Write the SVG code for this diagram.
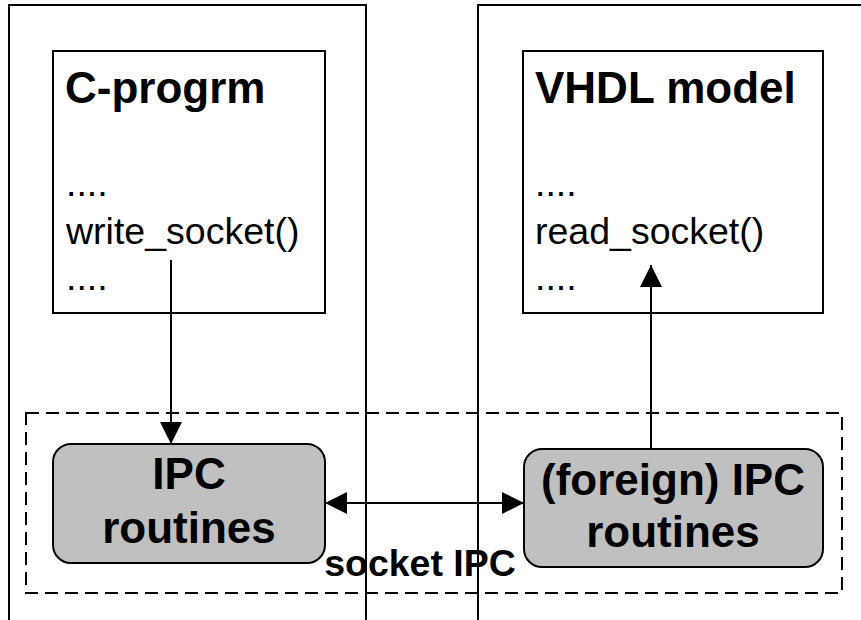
<svg xmlns="http://www.w3.org/2000/svg" width="861" height="620" viewBox="0 0 861 620">
  <style>
    .panel { fill: none; stroke: #000; stroke-width: 2; }
    .box { fill: #fff; stroke: #000; stroke-width: 2; }
    .ipc { fill: #c0c0c0; stroke: #000; stroke-width: 2; }
    .zone { fill: none; stroke: #000; stroke-width: 2; stroke-dasharray: 13 7; }
    .link { fill: none; stroke: #000; stroke-width: 2; }
    .head { font-family: "Liberation Sans", Arial, sans-serif; font-weight: bold; font-size: 44px; fill: #000; }
    .code { font-family: "Liberation Sans", Arial, sans-serif; font-size: 37.5px; fill: #000; }
    .label { font-family: "Liberation Sans", Arial, sans-serif; font-weight: bold; font-size: 37.5px; fill: #000; }
  </style>
  <defs>
    <marker id="arrow" viewBox="0 0 22 22" refX="22" refY="11" markerWidth="22" markerHeight="22" markerUnits="userSpaceOnUse" orient="auto-start-reverse">
      <path d="M0,0 L22,11 L0,22 Z" fill="#000"/>
    </marker>
  </defs>
  <rect width="861" height="620" fill="#fff"/>

  <!-- host process panels (open at the bottom / right) -->
  <g id="host-c">
    <path class="panel" d="M9,620 V5 H366 V620"/>
  </g>
  <g id="host-vhdl">
    <path class="panel" d="M478,620 V5 H861"/>
  </g>

  <!-- socket IPC zone -->
  <g id="socket-ipc">
    <rect class="zone" x="26" y="413" width="816" height="180"/>
    <text class="label" x="420" y="576" text-anchor="middle">socket IPC</text>
  </g>

  <g id="c-program">
    <rect class="box" x="53" y="51" width="272" height="262"/>
    <text class="head" x="65" y="103">C-progrm</text>
    <text class="code" x="66" y="196">....</text>
    <text class="code" x="66" y="244">write_socket()</text>
    <text class="code" x="66" y="290">....</text>
  </g>

  <g id="vhdl-model">
    <rect class="box" x="523" y="51" width="300" height="262"/>
    <text class="head" x="535" y="103">VHDL model</text>
    <text class="code" x="535" y="196">....</text>
    <text class="code" x="535" y="244">read_socket()</text>
    <text class="code" x="535" y="290">....</text>
  </g>

  <g id="ipc-routines">
    <rect class="ipc" x="53" y="444" width="272" height="119" rx="18"/>
    <text class="head" x="189" y="489" text-anchor="middle">IPC</text>
    <text class="head" x="189" y="543" text-anchor="middle">routines</text>
  </g>

  <g id="foreign-ipc-routines">
    <rect class="ipc" x="524" y="449" width="299" height="118" rx="18"/>
    <text class="head" x="673" y="495" text-anchor="middle">(foreign) IPC</text>
    <text class="head" x="673" y="547" text-anchor="middle">routines</text>
  </g>

  <g id="connectors">
    <line class="link" x1="171" y1="260" x2="171" y2="444" marker-end="url(#arrow)"/>
    <line class="link" x1="651" y1="449" x2="651" y2="265" marker-end="url(#arrow)"/>
    <line class="link" x1="325" y1="503" x2="524" y2="503" marker-start="url(#arrow)" marker-end="url(#arrow)"/>
  </g>
</svg>
